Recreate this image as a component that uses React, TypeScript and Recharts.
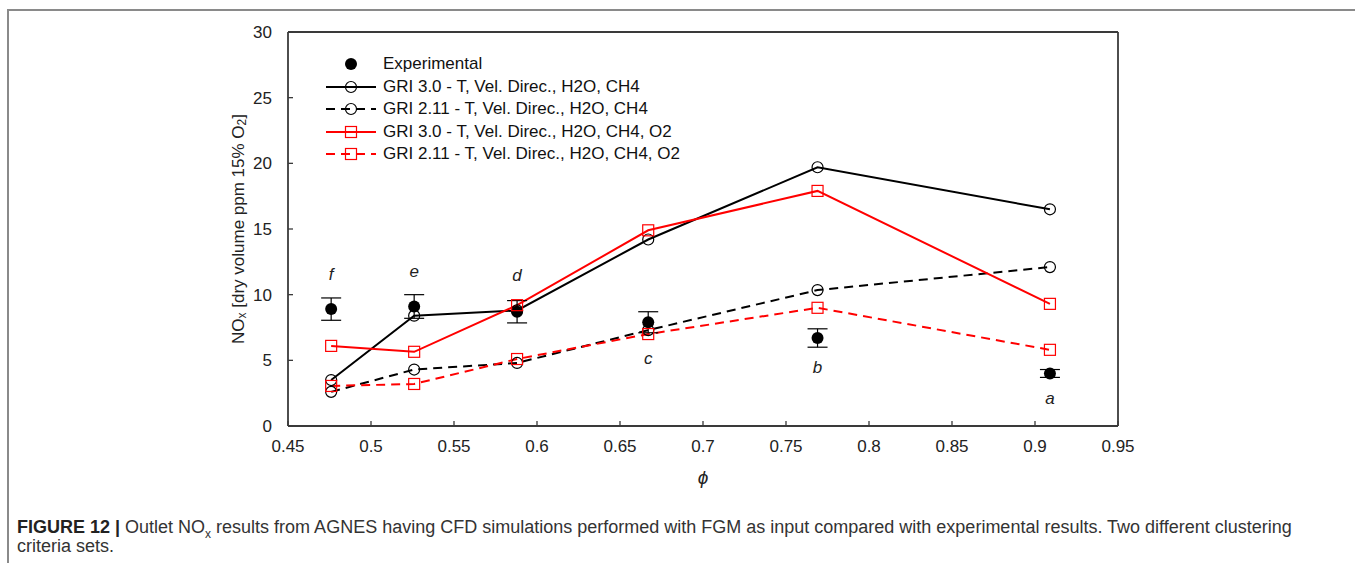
import { ComposedChart, Line, Scatter, XAxis, YAxis, ErrorBar, ReferenceLine, Label } from 'recharts';

// equivalence ratio of each measured case
const phi = [0.476, 0.526, 0.588, 0.667, 0.769, 0.909];
const experimental = [8.9, 9.1, 8.7, 7.9, 6.7, 4.0];
const experimentalError = [0.85, 0.9, 0.85, 0.8, 0.7, 0.3];
const gri30 = [3.5, 8.4, 8.8, 14.2, 19.7, 16.5];
const gri211 = [2.6, 4.3, 4.8, 7.3, 10.35, 12.1];
const gri30O2 = [6.1, 5.65, 9.2, 14.9, 17.9, 9.3];
const gri211O2 = [3.05, 3.2, 5.1, 7.0, 9.0, 5.8];
const caseLetters = ['f', 'e', 'd', 'c', 'b', 'a'];
const caseLetterY = [11.6, 11.8, 11.5, 5.2, 4.5, 2.1];

const xTicks = [0.45, 0.5, 0.55, 0.6, 0.65, 0.7, 0.75, 0.8, 0.85, 0.9, 0.95];
const yTicks = [0, 5, 10, 15, 20, 25, 30];

const legendItems = [
  { name: 'Experimental', color: '#000', marker: 'dot', line: '' },
  { name: 'GRI 3.0 - T, Vel. Direc., H2O, CH4', color: '#000', marker: 'circle', line: 'solid' },
  { name: 'GRI 2.11 - T, Vel. Direc., H2O, CH4', color: '#000', marker: 'circle', line: 'dash' },
  { name: 'GRI 3.0 - T, Vel. Direc., H2O, CH4, O2', color: '#f00', marker: 'square', line: 'solid' },
  { name: 'GRI 2.11 - T, Vel. Direc., H2O, CH4, O2', color: '#f00', marker: 'square', line: 'dash' },
];

const rows = phi.map((p, i) => ({
  phi: p,
  experimental: experimental[i],
  err: experimentalError[i],
  gri30: gri30[i],
  gri211: gri211[i],
  gri30O2: gri30O2[i],
  gri211O2: gri211O2[i],
  letterY: caseLetterY[i],
  letter: caseLetters[i],
}));

const FONT = '"Liberation Sans", Arial, sans-serif';
const AXIS = '#3a3a3a';
const RED = '#f00';
const DASH = '9 6';

const circleDot = (color: string) => (props: any) => {
  const { cx, cy, index } = props;
  if (cx == null || cy == null) return <g key={`c${index}`} />;
  return <circle key={`c${index}`} cx={cx} cy={cy} r={5.5} fill="none" stroke={color} strokeWidth={1.2} />;
};

const squareDot = (color: string) => (props: any) => {
  const { cx, cy, index } = props;
  if (cx == null || cy == null) return <g key={`s${index}`} />;
  return <rect key={`s${index}`} x={cx - 5.5} y={cy - 5.5} width={11} height={11} fill="none" stroke={color} strokeWidth={1.2} />;
};

const fmt = (v: number) => String(Number(v.toFixed(2)));

const XTick = ({ x, y, payload }: any) => (
  <g>
    <line x1={x} x2={x} y1={y} y2={y - 5} stroke={AXIS} strokeWidth={1.3} />
    <text x={x} y={y + 26} textAnchor="middle" fontSize={17} fontFamily={FONT} fill="#222">
      {fmt(payload.value)}
    </text>
  </g>
);

const YTick = ({ x, y, payload }: any) => (
  <g>
    <line x1={x} x2={x + 5} y1={y} y2={y} stroke={AXIS} strokeWidth={1.3} />
    <text x={x - 16} y={y + 6} textAnchor="end" fontSize={17} fontFamily={FONT} fill="#222">
      {payload.value}
    </text>
  </g>
);

const LetterShape = (props: any) => {
  const { cx, cy, payload } = props;
  return (
    <text x={cx} y={cy + 6} textAnchor="middle" fontSize={17} fontStyle="italic" fontFamily={FONT} fill="#222">
      {payload.letter}
    </text>
  );
};

const ExpDot = (props: any) => <circle cx={props.cx} cy={props.cy} r={6} fill="#000" />;

const YLabel = (props: any) => {
  const vb = props.viewBox;
  const cx = 238;
  const cy = vb.y + vb.height / 2;
  return (
    <text
      x={cx}
      y={cy}
      transform={`rotate(-90, ${cx}, ${cy})`}
      textAnchor="middle"
      fontSize={17}
      fontFamily={FONT}
      fill="#222"
      dominantBaseline="central"
    >
      NO
      <tspan fontSize={12} dy={4}>x</tspan>
      <tspan dy={-4}> [dry volume ppm 15% O</tspan>
      <tspan fontSize={12} dy={4}>2</tspan>
      <tspan dy={-4}>]</tspan>
    </text>
  );
};

const XLabel = (props: any) => {
  const vb = props.viewBox;
  return (
    <text x={vb.x + vb.width / 2} y={484} textAnchor="middle" fontSize={19} fontStyle="italic" fontFamily={FONT} fill="#222">
      ϕ
    </text>
  );
};

const LegendSymbol = ({ item }: any) => (
  <svg width={56} height={20} style={{ position: 'absolute', left: 323, top: 0 }}>
    {item.line && (
      <line
        x1={3}
        x2={53}
        y1={10}
        y2={10}
        stroke={item.color}
        strokeWidth={2}
        strokeDasharray={item.line === 'dash' ? DASH : undefined}
      />
    )}
    {item.marker === 'dot' && <circle cx={28} cy={10} r={6} fill="#000" />}
    {item.marker === 'circle' && <circle cx={28} cy={10} r={5.5} fill="none" stroke={item.color} strokeWidth={1.2} />}
    {item.marker === 'square' && (
      <rect x={22.5} y={4.5} width={11} height={11} fill="none" stroke={item.color} strokeWidth={1.2} />
    )}
  </svg>
);

const App = () => {
  return (
    <div style={{ position: 'absolute', left: 0, top: 0, width: 1355, height: 563, overflow: 'hidden', background: '#fff' }}>
      <div style={{ position: 'absolute', left: 7, top: 9, width: 1348, height: 2, background: '#8a8a8a' }} />
      <div style={{ position: 'absolute', left: 7, top: 9, width: 2, height: 554, background: '#8a8a8a' }} />

      <div style={{ position: 'absolute', left: 0, top: 0 }}>
        <ComposedChart width={1355} height={500} data={rows} margin={{ top: 32, right: 237, left: 228, bottom: 44 }}>
          <XAxis
            dataKey="phi"
            type="number"
            domain={[0.45, 0.95]}
            ticks={xTicks}
            interval={0}
            height={30}
            tickSize={0}
            tickMargin={0}
            tick={<XTick />}
            axisLine={{ stroke: AXIS, strokeWidth: 1.8 }}
            tickLine={false}
          >
            <Label content={<XLabel />} />
          </XAxis>
          <YAxis
            type="number"
            domain={[0, 30]}
            ticks={yTicks}
            interval={0}
            width={60}
            tickSize={0}
            tickMargin={0}
            tick={<YTick />}
            axisLine={{ stroke: AXIS, strokeWidth: 1.8 }}
            tickLine={false}
          >
            <Label content={<YLabel />} />
          </YAxis>
          <ReferenceLine y={30} stroke={AXIS} strokeWidth={1.8} />
          <ReferenceLine x={0.95} stroke={AXIS} strokeWidth={1.8} />

          <Line
            dataKey="gri30"
            stroke="#000"
            strokeWidth={2}
            dot={circleDot('#000')}
            activeDot={false}
            isAnimationActive={false}
          />
          <Line
            dataKey="gri211"
            stroke="#000"
            strokeWidth={2}
            strokeDasharray={DASH}
            dot={circleDot('#000')}
            activeDot={false}
            isAnimationActive={false}
          />
          <Line
            dataKey="gri30O2"
            stroke={RED}
            strokeWidth={2}
            dot={squareDot(RED)}
            activeDot={false}
            isAnimationActive={false}
          />
          <Line
            dataKey="gri211O2"
            stroke={RED}
            strokeWidth={2}
            strokeDasharray={DASH}
            dot={squareDot(RED)}
            activeDot={false}
            isAnimationActive={false}
          />
          <Scatter dataKey="experimental" fill="#000" shape={<ExpDot />} isAnimationActive={false}>
            <ErrorBar dataKey="err" direction="y" width={10} stroke="#000" strokeWidth={1.2} isAnimationActive={false} />
          </Scatter>
          <Scatter dataKey="letterY" shape={<LetterShape />} isAnimationActive={false} />
        </ComposedChart>
      </div>

      {legendItems.map((item, i) => (
        <div key={item.name} style={{ position: 'absolute', left: 0, top: 54 + i * 22.6, height: 20, width: 800 }}>
          <LegendSymbol item={item} />
          <span
            style={{
              position: 'absolute',
              left: 383,
              top: 0,
              lineHeight: '20px',
              fontSize: 17,
              fontFamily: FONT,
              color: '#111',
              whiteSpace: 'nowrap',
            }}
          >
            {item.name}
          </span>
        </div>
      ))}

      <div
        style={{
          position: 'absolute',
          left: 17,
          top: 518,
          fontFamily: '"Liberation Sans Narrow", "Liberation Sans", Arial, sans-serif',
          fontSize: 18,
          lineHeight: '19px',
          color: '#333',
          whiteSpace: 'nowrap',
        }}
      >
        <b style={{ color: '#222' }}>FIGURE 12 |</b> Outlet NO<sub style={{ fontSize: 12, lineHeight: 0 }}>x</sub> results from AGNES
        having CFD simulations performed with FGM as input compared with experimental results. Two different clustering
        <br />
        criteria sets.
      </div>
    </div>
  );
};

export default App;
